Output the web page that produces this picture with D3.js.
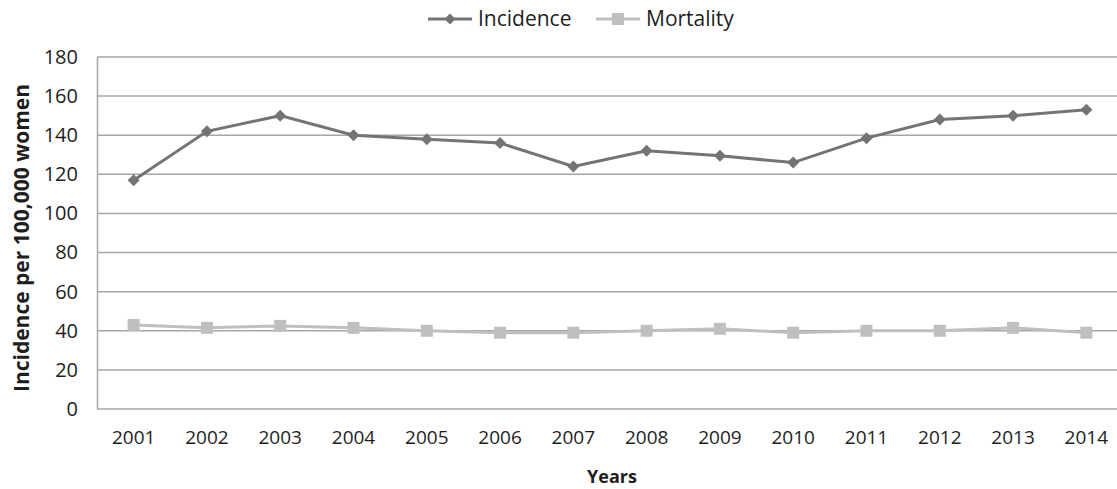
<!DOCTYPE html>
<html>
<head>
<meta charset="utf-8">
<script src="https://cdn.jsdelivr.net/npm/d3@7"></script>
<style>
  body { margin: 0; background: #fff; }
  svg { font-family: "Open Sans", "Liberation Sans", sans-serif; }
</style>
</head>
<body>
<svg id="chart"></svg>
<script>
var years = ["2001", "2002", "2003", "2004", "2005", "2006", "2007", "2008", "2009", "2010", "2011", "2012", "2013", "2014"];
var incidence = [117, 142, 150, 140, 138, 136, 124, 132, 129.5, 126, 138.5, 148, 150, 153];
var mortality = [43, 41.5, 42.5, 41.5, 40, 39, 39, 40, 41, 39, 40, 40, 41.5, 39];
var yTicks = [0, 20, 40, 60, 80, 100, 120, 140, 160, 180];

var width = 1117, height = 489;
var margin = {top: 57, right: -6, bottom: 80, left: 97};

var svg = d3.select("#chart")
    .attr("width", width)
    .attr("height", height);

var plotW = width - margin.left - margin.right,
    plotH = height - margin.top - margin.bottom;

var g = svg.append("g")
    .attr("transform", "translate(" + margin.left + "," + margin.top + ")");

var x = d3.scaleBand().domain(years).range([0, plotW]);
var y = d3.scaleLinear().domain([0, 180]).range([plotH, 0]);

// gridlines
g.selectAll("line.grid")
    .data(yTicks)
    .enter().append("line")
    .attr("class", "grid")
    .attr("x1", 0)
    .attr("x2", plotW)
    .attr("y1", function(d) { return y(d); })
    .attr("y2", function(d) { return y(d); })
    .attr("stroke", "#a6a6a6")
    .attr("stroke-width", 1.5);

// y axis
var yAxis = g.append("g")
    .call(d3.axisLeft(y).tickValues(yTicks).tickSize(0).tickPadding(19));
yAxis.select(".domain").attr("stroke", "#a6a6a6").attr("stroke-width", 1.5);
yAxis.selectAll("text")
    .attr("font-size", 20)
    .attr("fill", "#1e1e1e")
    .attr("font-family", "Open Sans, sans-serif");

// x axis
var xAxis = g.append("g")
    .attr("transform", "translate(0," + plotH + ")")
    .call(d3.axisBottom(x).tickSize(0).tickPadding(22));
xAxis.select(".domain").remove();
xAxis.selectAll("text")
    .attr("font-size", 19)
    .attr("fill", "#1e1e1e")
    .attr("font-family", "Open Sans, sans-serif");

var line = d3.line()
    .x(function(d, i) { return x(years[i]) + x.bandwidth() / 2; })
    .y(function(d) { return y(d); });

// mortality
g.append("path")
    .datum(mortality)
    .attr("d", line)
    .attr("fill", "none")
    .attr("stroke", "#bfbfbf")
    .attr("stroke-width", 3);

g.selectAll("rect.mort")
    .data(mortality)
    .enter().append("rect")
    .attr("class", "mort")
    .attr("x", function(d, i) { return x(years[i]) + x.bandwidth() / 2 - 6; })
    .attr("y", function(d) { return y(d) - 6; })
    .attr("width", 12)
    .attr("height", 12)
    .attr("fill", "#bfbfbf");

// incidence
g.append("path")
    .datum(incidence)
    .attr("d", line)
    .attr("fill", "none")
    .attr("stroke", "#747474")
    .attr("stroke-width", 3);

// diamonds: squares turned 45 degrees
var diamond = d3.symbol().type(d3.symbolSquare).size(72);
g.selectAll("path.inc")
    .data(incidence)
    .enter().append("path")
    .attr("class", "inc")
    .attr("d", diamond)
    .attr("transform", function(d, i) {
        return "translate(" + (x(years[i]) + x.bandwidth() / 2) + "," + y(d) + ") rotate(45)";
    })
    .attr("fill", "#747474");

// axis titles
svg.append("text")
    .attr("transform", "translate(29," + (margin.top + plotH / 2 + 5) + ") rotate(-90)")
    .attr("text-anchor", "middle")
    .attr("font-size", 21)
    .attr("font-weight", "bold")
    .attr("fill", "#1e1e1e")
    .text("Incidence per 100,000 women");

svg.append("text")
    .attr("x", 612)
    .attr("y", 483)
    .attr("text-anchor", "middle")
    .attr("font-size", 18)
    .attr("font-weight", "bold")
    .attr("fill", "#1e1e1e")
    .text("Years");

// legend
var legend = svg.append("g").attr("transform", "translate(0,19)");
var items = [
    {name: "Incidence", color: "#747474", x: 428, marker: "diamond"},
    {name: "Mortality", color: "#bfbfbf", x: 596, marker: "square"}
];
items.forEach(function(it) {
    legend.append("line")
        .attr("x1", it.x).attr("x2", it.x + 44)
        .attr("y1", 0).attr("y2", 0)
        .attr("stroke", it.color).attr("stroke-width", 3);
    if (it.marker == "diamond") {
        legend.append("path")
            .attr("d", d3.symbol().type(d3.symbolSquare).size(60))
            .attr("transform", "translate(" + (it.x + 22) + ",0) rotate(45)")
            .attr("fill", it.color);
    } else {
        legend.append("rect")
            .attr("x", it.x + 16).attr("y", -6)
            .attr("width", 12).attr("height", 12)
            .attr("fill", it.color);
    }
    legend.append("text")
        .attr("x", it.x + 50)
        .attr("y", 7)
        .attr("font-size", 21)
        .attr("fill", "#1e1e1e")
        .text(it.name);
});
</script>
</body>
</html>
